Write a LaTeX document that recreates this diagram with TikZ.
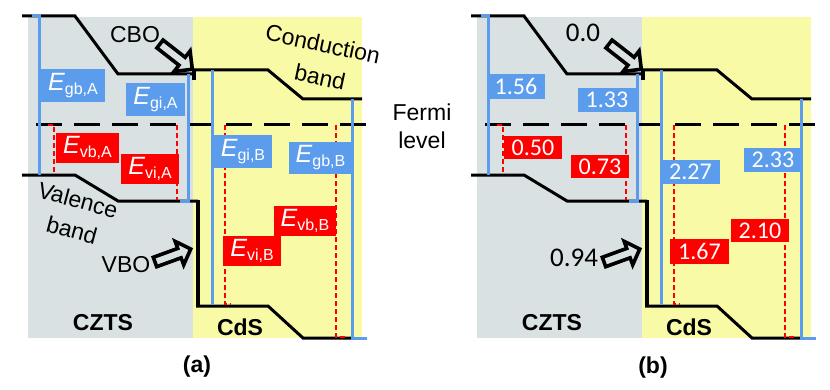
\documentclass[tikz,border=0pt]{standalone}
\usepackage{fontspec}
\setmainfont{Liberation Sans}
\newfontfamily\numfont{Carlito}
\usetikzlibrary{positioning}
\definecolor{CztsGray}{HTML}{DAE1E2}
\definecolor{CdsYellow}{HTML}{F8FAA6}
\definecolor{GapBlue}{HTML}{5C9CEC}
\definecolor{OffRed}{HTML}{FF0000}
\newcommand{\Elab}[1]{{\fontsize{25}{25}\selectfont\itshape E}{\fontsize{16}{16}\selectfont\raisebox{-4pt}{#1}}}
\tikzset{band/.style={draw=black,line width=3pt,line join=miter},fermi/.style={draw=black,line width=3pt,dash pattern=on 26pt off 12pt},gapline/.style={draw=GapBlue,line width=3pt},offline/.style={draw=OffRed,line width=2.6pt,dash pattern=on 5pt off 3pt},gapbox/.style={fill=GapBlue,text=white,inner xsep=7pt,inner ysep=4pt},offbox/.style={fill=OffRed,text=white,inner xsep=7pt,inner ysep=3pt},numbox/.style={font=\numfont\fontsize{24}{24}\selectfont,inner xsep=8pt,inner ysep=4pt},blockarrow/.style={draw=black,line width=3.6pt,line join=miter},plaintext/.style={font=\fontsize{23}{23}\selectfont,inner sep=0pt},numtext/.style={font=\numfont\fontsize{27}{27}\selectfont,inner sep=0pt},material/.style={font=\bfseries\fontsize{23}{23}\selectfont,inner sep=0pt}}

\begin{document}
\begin{tikzpicture}[x=1pt,y=1pt]
\useasboundingbox (0,0) rectangle (830,389);
\fill[white] (0,0) rectangle (830,389);
\foreach \dx in {0,449}{
\begin{scope}[xshift=\dx]
\fill[CztsGray] (28,51) rectangle (193,372);\fill[CdsYellow] (193,51) rectangle (362,372);
% band edges
\draw[band] (22,373)--(75,373)--(118,315)--(194,315);\draw[band] (192,319)--(268,319)--(303,290)--(362,290);
\draw[black,line width=4pt] (194,319)--(194,309);
\draw[band] (22,214)--(75,214)--(118,188)--(198,188);\draw[black,line width=4pt] (198,189.5)--(198,83);\draw[band] (196,83)--(268,83)--(303,51)--(352,51);
\draw[fermi] (36,264)--(366,264);
% gaps and offsets
\draw[gapline] (32,373)--(39,373)--(39,214);\draw[gapline] (188,315)--(188,188)--(180,188);
\draw[gapline] (212,319)--(212,84);\draw[gapline] (352,290)--(352,51)--(367,51);
\draw[offline] (48,264)--(54,264)--(54,214);\draw[offline] (177,264)--(177,189);
\draw[offline] (225,264)--(225,85)--(231,85);\draw[offline] (336,264)--(336,52)--(347,52);
\draw[blockarrow,shift={(160,345)},rotate=-38] (0,5)--(28,5)--(28,13)--(41,0)--(28,-13)--(28,-5)--(0,-5)--cycle;
\draw[blockarrow,shift={(155,127)},rotate=20] (0,5)--(26,5)--(26,12.5)--(38,0)--(26,-12.5)--(26,-5)--(0,-5)--cycle;
\node[material] (czts\dx) at (103,66) {CZTS};\node[material] (cds\dx) at (240,62) {CdS};
\end{scope}}
% panel (a)
\node[gapbox] (egbA) at (73,303.5) {\Elab{gb,A}};\node[gapbox] (egiA) at (155.5,289.5) {\Elab{gi,A}};
\node[offbox] (evbA) at (87.5,241) {\Elab{vb,A}};\node[offbox] (eviA) at (150,220) {\Elab{vi,A}};
\node[gapbox] (egiB) at (243,237.5) {\Elab{gi,B}};\node[gapbox] (egbB) at (320.5,231) {\Elab{gb,B}};
\node[offbox] (evbB) at (305,168) {\Elab{vb,B}};\node[offbox] (eviB) at (252,138) {\Elab{vi,B}};
\node[plaintext] (cbo) at (135,354) {CBO};\node[plaintext] (vbo) at (126,124) {VBO};
\node[plaintext,rotate=-12] (cond) at (323,345) {Conduction};\node[plaintext,rotate=-12] (condb) at (320,312) {band};
\node[plaintext,rotate=-15] (val) at (78,189) {Valence};\node[plaintext,rotate=-15] (valb) at (72,159) {band};
\node[plaintext] (fermi) at (422,277) {Fermi};\node[plaintext] (level) at (422,249) {level};
\node[material] (capa) at (197,22) {(a)};
% panel (b)
\node[gapbox,numbox] (gb1) at (516,302.5) {1.56};\node[gapbox,numbox] (gi1) at (607,289) {1.33};
\node[offbox,numbox] (vb1) at (533,241.5) {0.50};\node[offbox,numbox] (vi1) at (600,222.5) {0.73};
\node[gapbox,numbox] (gi2) at (690.5,217) {2.27};\node[gapbox,numbox] (gb2) at (773,229) {2.33};
\node[offbox,numbox] (vi2) at (699.5,137.5) {1.67};\node[offbox,numbox] (vb2) at (760,158.5) {2.10};
\node[numtext] (cbonum) at (583,356) {0.0};\node[numtext] (vbonum) at (574,131) {0.94};
\node[material] (capb) at (653,21) {(b)};
\end{tikzpicture}
\end{document}
